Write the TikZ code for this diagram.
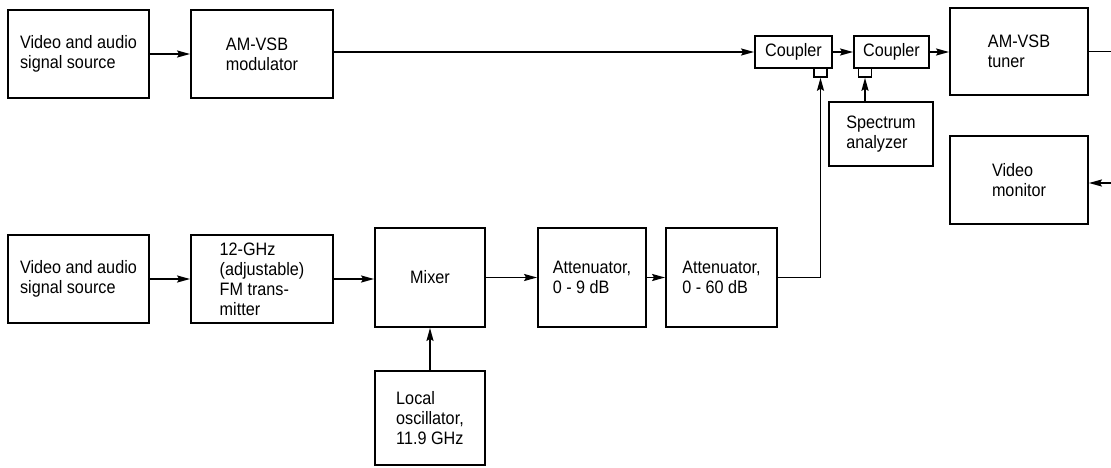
\documentclass[tikz,border=0pt]{standalone}
\usepackage{fontspec}
\setmainfont{Liberation Sans}[FakeStretch=0.9]
\usetikzlibrary{arrows.meta}
\tikzset{
  blk/.style={draw,line width=1.8pt,align=left,inner sep=0pt,
    font=\fontsize{18}{20}\selectfont},
  port/.style={draw,line width=1.5pt,inner sep=0pt,
    minimum width=13pt,minimum height=9pt},
  wire/.style={line width=1.8pt},
  sig/.style={wire,-{Stealth[length=13pt,width=7pt,inset=2pt]}},
}

\begin{document}
\begin{tikzpicture}[x=1pt,y=-1pt]
  \useasboundingbox (0,0) rectangle (1111,467);

  % AM-VSB path
  \node[blk,minimum width=141pt,minimum height=88pt] (srcA) at (78.5,54) {Video and audio\\signal source};
  \node[blk,minimum width=142pt,minimum height=88pt] (modA) at (262,54) {AM-VSB\\modulator};
  \node[blk,minimum width=77pt,minimum height=32pt] (cplA) at (793.5,52) {Coupler};
  \node[blk,minimum width=75pt,minimum height=32pt] (cplB) at (891.5,52) {Coupler};
  \node[port] (portA) at (820.5,72.5) {};
  \node[port] (portB) at (865,72.5) {};
  \node[blk,minimum width=104pt,minimum height=64pt] (spec) at (881,134) {Spectrum\\analyzer};
  \node[blk,minimum width=138pt,minimum height=87pt] (tuner) at (1019,51.5) {AM-VSB\\tuner};
  \node[blk,minimum width=138pt,minimum height=88pt] (mon) at (1019,180) {Video\\monitor};

  % FM path
  \node[blk,minimum width=141pt,minimum height=88pt] (srcB) at (78.5,279) {Video and audio\\signal source};
  \node[blk,minimum width=142pt,minimum height=88pt] (fmtx) at (262,279) {12-GHz\\(adjustable)\\FM trans-\\mitter};
  \node[blk,minimum width=110pt,minimum height=99pt] (mix) at (430,277.5) {Mixer};
  \node[blk,minimum width=108pt,minimum height=99pt] (attA) at (592,277.5) {Attenuator,\\0 - 9 dB};
  \node[blk,minimum width=111pt,minimum height=99pt] (attB) at (721.5,277.5) {Attenuator,\\0 - 60 dB};
  \node[blk,minimum width=110pt,minimum height=94pt] (osc) at (430,418) {Local\\oscillator,\\11.9 GHz};

  \coordinate (edgeT) at (1111.5,51.5);
  \coordinate (edgeB) at (1111.5,183);

  \draw[sig] (srcA.east) -- (modA.west);
  \draw[sig] (modA.east |- cplA.west) -- (cplA.west);
  \draw[sig] (cplA.east) -- (cplB.west);
  \draw[sig] (cplB.east) -- (tuner.west |- cplB.east);
  \draw[sig] (spec.north -| portB) -- (portB.south);
  \draw[sig] (tuner.east) -- (edgeT) -- (edgeB) -- (mon.east |- edgeB);

  \draw[sig] (srcB.east) -- (srcB.east -| fmtx.west);
  \draw[sig] (fmtx.east) -- (fmtx.east -| mix.west);
  \draw[sig] (mix.east) -- (attA.west);
  \draw[sig] (attA.east) -- (attB.west);
  \draw[sig] (osc.north) -- (mix.south);
  \draw[sig] (attB.east) -| (portA.south);
\end{tikzpicture}
\end{document}
